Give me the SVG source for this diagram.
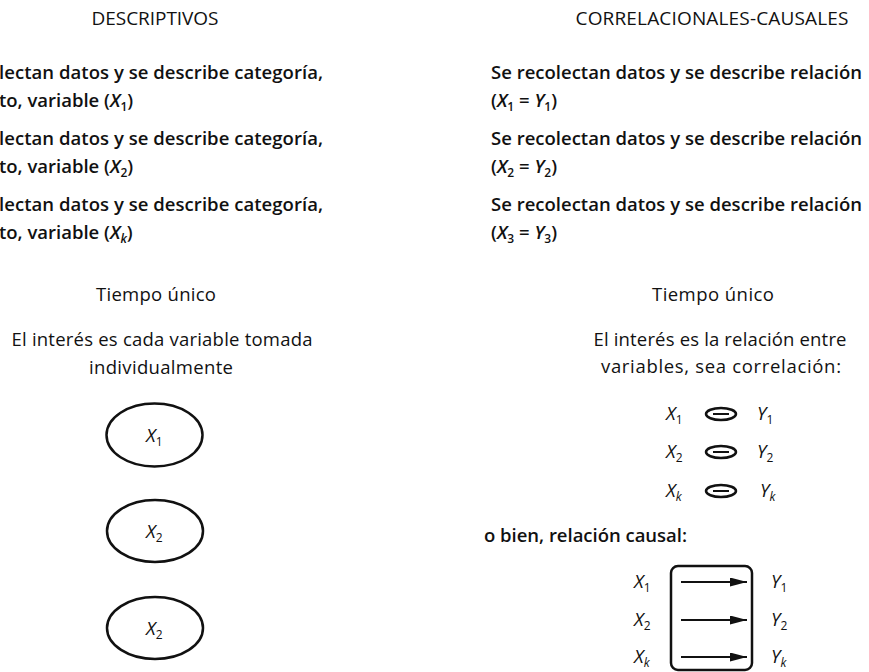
<svg xmlns="http://www.w3.org/2000/svg" width="869" height="672" viewBox="0 0 869 672">
<style>
.t{font-family:"Open Sans","Liberation Sans",sans-serif;fill:#111;font-size:18.5px}
.b{font-weight:600}
.h{font-size:19px}
.v{font-style:italic}
.s{font-size:12px}
.shape{fill:none;stroke:#111;stroke-width:2.5}
.ln{stroke:#111;stroke-width:2}
</style>
<defs>
<marker id="ah" viewBox="0 0 10 10" refX="10" refY="5" markerWidth="17" markerHeight="9" markerUnits="userSpaceOnUse" orient="auto" preserveAspectRatio="none">
<path d="M0,0 L10,5 L0,10 Z" fill="#111"/>
</marker>
</defs>

<g id="header-left"><text class="t h" x="155" y="25" text-anchor="middle" textLength="127">DESCRIPTIVOS</text></g>
<g id="header-right"><text class="t h" x="712" y="25" text-anchor="middle" textLength="273">CORRELACIONALES-CAUSALES</text></g>

<g id="desc-left">
<text class="t b" x="-1" y="79" textLength="324">lectan datos y se describe categoría,</text>
<text class="t b" x="-1" y="107">to, variable (<tspan class="v">X</tspan><tspan class="s" dy="4">1</tspan><tspan dy="-4">)</tspan></text>
<text class="t b" x="-1" y="145" textLength="324">lectan datos y se describe categoría,</text>
<text class="t b" x="-1" y="173">to, variable (<tspan class="v">X</tspan><tspan class="s" dy="4">2</tspan><tspan dy="-4">)</tspan></text>
<text class="t b" x="-1" y="211" textLength="324">lectan datos y se describe categoría,</text>
<text class="t b" x="-1" y="239">to, variable (<tspan class="v">X</tspan><tspan class="s v" dy="4">k</tspan><tspan dy="-4">)</tspan></text>
</g>

<g id="desc-right">
<text class="t b" x="491" y="79" textLength="371">Se recolectan datos y se describe relación</text>
<text class="t b" x="491" y="107">(<tspan class="v">X</tspan><tspan class="s" dy="4">1</tspan><tspan dy="-4"> = </tspan><tspan class="v">Y</tspan><tspan class="s" dy="4">1</tspan><tspan dy="-4">)</tspan></text>
<text class="t b" x="491" y="145" textLength="371">Se recolectan datos y se describe relación</text>
<text class="t b" x="491" y="173">(<tspan class="v">X</tspan><tspan class="s" dy="4">2</tspan><tspan dy="-4"> = </tspan><tspan class="v">Y</tspan><tspan class="s" dy="4">2</tspan><tspan dy="-4">)</tspan></text>
<text class="t b" x="491" y="211" textLength="371">Se recolectan datos y se describe relación</text>
<text class="t b" x="491" y="239">(<tspan class="v">X</tspan><tspan class="s" dy="4">3</tspan><tspan dy="-4"> = </tspan><tspan class="v">Y</tspan><tspan class="s" dy="4">3</tspan><tspan dy="-4">)</tspan></text>
</g>

<g id="mid-left">
<text class="t" x="156" y="301" text-anchor="middle" textLength="120">Tiempo único</text>
<text class="t" x="162" y="346" text-anchor="middle" textLength="301">El interés es cada variable tomada</text>
<text class="t" x="161" y="374" text-anchor="middle" textLength="144">individualmente</text>
</g>

<g id="mid-right">
<text class="t" x="713" y="301" text-anchor="middle" textLength="122">Tiempo único</text>
<text class="t" x="720" y="346" text-anchor="middle" textLength="253">El interés es la relación entre</text>
<text class="t" x="721" y="373" text-anchor="middle" textLength="240">variables, sea correlación:</text>
</g>

<g id="node-x1">
<ellipse class="shape" cx="154.5" cy="435" rx="48" ry="31.5"/>
<text class="t v" x="146" y="442" font-size="17">X<tspan class="s" font-style="normal" dy="4">1</tspan></text>
</g>
<g id="node-x2">
<ellipse class="shape" cx="155" cy="531" rx="48" ry="31"/>
<text class="t v" x="146" y="538" font-size="17">X<tspan class="s" font-style="normal" dy="4">2</tspan></text>
</g>
<g id="node-x3">
<ellipse class="shape" cx="155" cy="628" rx="48" ry="31"/>
<text class="t v" x="146" y="635" font-size="17">X<tspan class="s" font-style="normal" dy="4">2</tspan></text>
</g>

<g id="corr-rows">
<g id="corr-1">
<text class="t v" x="666" y="420">X<tspan class="s" font-style="normal" dy="4">1</tspan></text>
<ellipse class="shape" cx="721" cy="414" rx="15" ry="6" stroke-width="2"/>
<line class="ln" x1="713" y1="414" x2="729" y2="414"/>
<text class="t v" x="757" y="420">Y<tspan class="s" font-style="normal" dy="4">1</tspan></text>
</g>
<g id="corr-2">
<text class="t v" x="666" y="458">X<tspan class="s" font-style="normal" dy="4">2</tspan></text>
<ellipse class="shape" cx="721" cy="452" rx="15" ry="6" stroke-width="2"/>
<line class="ln" x1="713" y1="452" x2="729" y2="452"/>
<text class="t v" x="757" y="458">Y<tspan class="s" font-style="normal" dy="4">2</tspan></text>
</g>
<g id="corr-k">
<text class="t v" x="666" y="497">X<tspan class="s" dy="4">k</tspan></text>
<ellipse class="shape" cx="721" cy="491" rx="15" ry="6" stroke-width="2"/>
<line class="ln" x1="713" y1="491" x2="729" y2="491"/>
<text class="t v" x="760" y="497">Y<tspan class="s" dy="4">k</tspan></text>
</g>
</g>

<g id="causal-label"><text class="t b" x="484" y="542" textLength="203">o bien, relación causal:</text></g>

<g id="causal-box">
<rect class="shape" x="671" y="566" width="81" height="104" rx="7" stroke-width="2"/>
<text class="t v" x="634" y="588">X<tspan class="s" font-style="normal" dy="4">1</tspan></text>
<text class="t v" x="634" y="626">X<tspan class="s" font-style="normal" dy="4">2</tspan></text>
<text class="t v" x="634" y="663">X<tspan class="s" dy="4">k</tspan></text>
<text class="t v" x="771" y="588">Y<tspan class="s" font-style="normal" dy="4">1</tspan></text>
<text class="t v" x="771" y="626">Y<tspan class="s" font-style="normal" dy="4">2</tspan></text>
<text class="t v" x="771" y="663">Y<tspan class="s" dy="4">k</tspan></text>
</g>

<g id="connectors">
<line class="ln" x1="681" y1="582" x2="747" y2="582" marker-end="url(#ah)"/>
<line class="ln" x1="681" y1="620" x2="747" y2="620" marker-end="url(#ah)"/>
<line class="ln" x1="681" y1="657" x2="747" y2="657" marker-end="url(#ah)"/>
</g>
</svg>
